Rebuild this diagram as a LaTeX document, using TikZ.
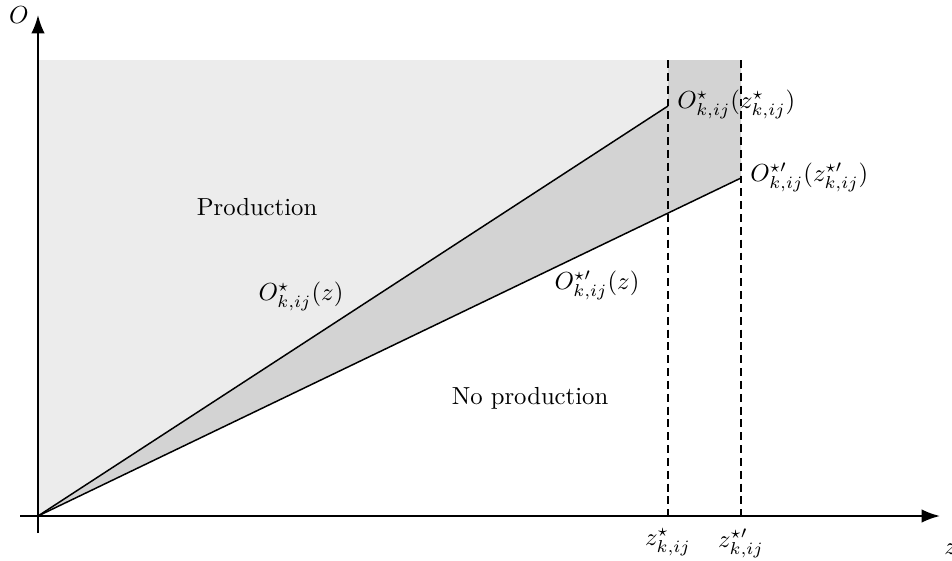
\documentclass[tikz,border=0pt]{standalone}
\usetikzlibrary{arrows.meta}
\definecolor{lightg}{RGB}{236,236,236}
\definecolor{darkg}{RGB}{211,211,211}
\tikzset{
  axis/.style={line width=0.8pt,-{Latex[length=2.6mm,width=1.9mm]}},
  curve/.style={line width=0.6pt},
  guide/.style={line width=0.6pt,dash pattern=on 3.2pt off 2pt},
  lbl/.style={inner sep=2pt}
}
\begin{document}
\begin{tikzpicture}[x=0.01424cm,y=-0.01424cm]
\useasboundingbox (0,0) rectangle (952,560);
\coordinate (o) at (38,516);
\coordinate (a) at (668,106);
\coordinate (b) at (741,178);
\coordinate (ta) at (668,60);
\coordinate (tb) at (741,60);
\coordinate (tl) at (38,60);
\coordinate (ba) at (668,516);
\coordinate (bb) at (741,516);
\coordinate (xs) at (20,516);
\coordinate (xe) at (940,516);
\coordinate (ys) at (38,533);
\coordinate (ye) at (38,15);
\fill[lightg] (o) -- (tl) -- (tb) -- (b) -- cycle;
\fill[darkg] (o) -- (a) -- (ta) -- (tb) -- (b) -- cycle;
\draw[guide] (ta) -- (ba);
\draw[guide] (tb) -- (bb);
\draw[curve] (o) -- (a);
\draw[curve] (o) -- (b);
\draw[axis] (xs) -- (xe);
\draw[axis] (ys) -- (ye);
\node (lo) at (19,15) {$O$};
\node[anchor=west,inner sep=0pt] (lz) at (944,549) {$z$};
\node[anchor=west,lbl] (la) at (672,104) {$O^{\star}_{k,ij}(z^{\star}_{k,ij})$};
\node[anchor=west,lbl] (lb) at (745,177) {$O^{\star\prime}_{k,ij}(z^{\star\prime}_{k,ij})$};
\node[anchor=north,lbl] (za) at (ba) [yshift=-3pt] {$z^{\star}_{k,ij}$};
\node[anchor=north,lbl] (zb) at (bb) [yshift=-3pt] {$z^{\star\prime}_{k,ij}$};
\node (prod) at (257,207) {Production};
\node (noprod) at (530,398) {No production};
\node (ca) at (301,296) {$O^{\star}_{k,ij}(z)$};
\node (cb) at (597,285) {$O^{\star\prime}_{k,ij}(z)$};
\end{tikzpicture}
\end{document}
